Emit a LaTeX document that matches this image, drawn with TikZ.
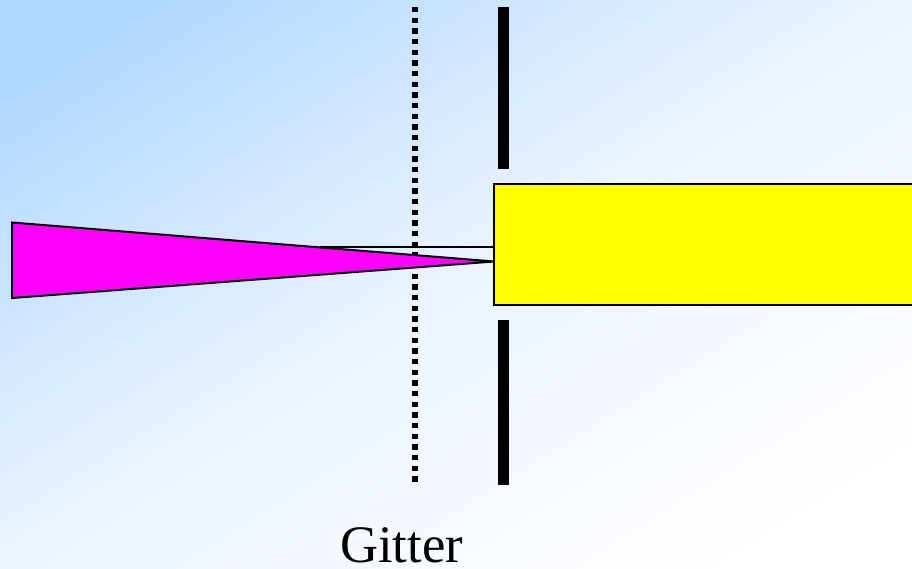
\documentclass[tikz,border=0pt]{standalone}
\usepackage{fontspec}
\setmainfont{Liberation Serif}
\definecolor{bgA}{RGB}{176,216,255}
\definecolor{bgB}{RGB}{236,244,255}
\definecolor{bgC}{RGB}{255,255,255}
\definecolor{beam}{RGB}{255,0,255}
\definecolor{tube}{RGB}{255,255,0}
\pgfdeclarehorizontalshading{slidebg}{100bp}{color(0bp)=(bgA); color(21bp)=(bgA); color(50bp)=(bgB); color(78bp)=(bgC); color(100bp)=(bgC)}
\tikzset{
  outline/.style={draw=black,line width=2pt,line join=miter},
  slit/.style={line width=11pt,black},
  grid wire/.style={line width=5.4pt,black,dash pattern=on 5.33pt off 5.34pt},
}
\begin{document}
\begin{tikzpicture}[x=1pt,y=-1pt]
\useasboundingbox (0,0) rectangle (912,568);
\shade[shading=slidebg,shading angle=-58] (0,0) rectangle (912,568);
\draw[grid wire] (415,7) -- (415,482);
\draw[slit] (503,7) -- (503,168.5);
\draw[slit] (503,320) -- (503,485);
\draw[outline,fill=tube] (494,183.5) rectangle (913,305.2);
\draw[line width=2pt] (320,247.3) -- (494,247.3);
\draw[outline,fill=beam] (12,222.5) -- (494,261.5) -- (12,298) -- cycle;
\node[anchor=base,font=\fontsize{52.7pt}{60pt}\selectfont,inner sep=0pt] (gitter) at (401.5,562) {Gitter};
\end{tikzpicture}
\end{document}
